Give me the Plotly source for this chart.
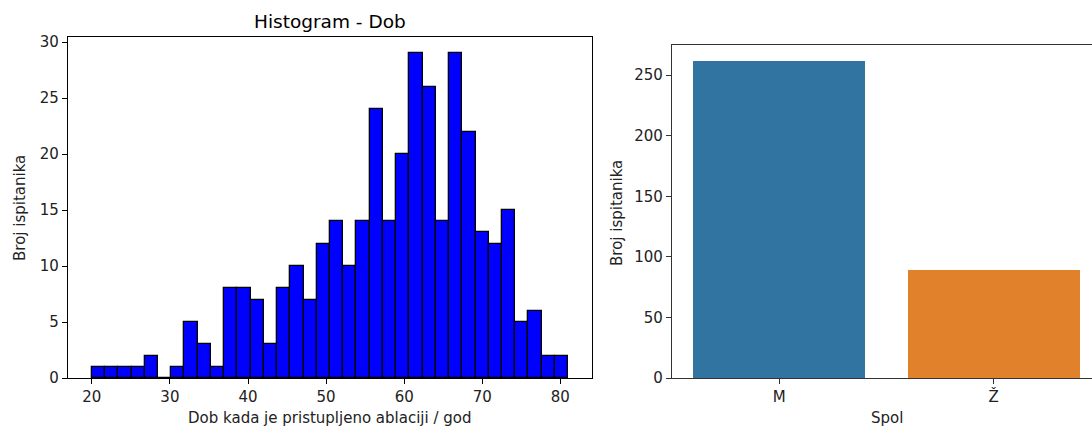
import plotly.graph_objects as go

# ---- data ----
age_bin_start = 20.0
age_bin_end = 81.0
age_counts = [1, 1, 1, 1, 2, 0, 1, 5, 3, 1, 8, 8, 7, 3, 8, 10, 7, 12,
              14, 10, 14, 24, 14, 20, 29, 26, 14, 29, 22, 13, 12, 15, 5, 6, 2, 2]
age_ticks = [20, 30, 40, 50, 60, 70, 80]
age_count_ticks = [0, 5, 10, 15, 20, 25, 30]
sex_categories = ["M", "Ž"]
sex_counts = [262, 89]
sex_count_ticks = [0, 50, 100, 150, 200, 250]
sex_colors = ["#3274a1", "#e1812c"]

n_bins = len(age_counts)
bw = (age_bin_end - age_bin_start) / n_bins
centers = [age_bin_start + bw * (i + 0.5) for i in range(n_bins)]

W, H = 1092, 428
def fx(px):
    return px / W
def fy(py):
    return (H - py) / H

FONT = "DejaVu Sans"
TXT = "#222222"
FS = 15

fig = go.Figure()
fig.add_trace(go.Bar(x=centers, y=age_counts, width=[bw] * n_bins,
                     marker=dict(color="#0000ff", line=dict(color="black", width=1.3)),
                     xaxis="x", yaxis="y", showlegend=False))
fig.add_trace(go.Bar(x=sex_categories, y=sex_counts, width=0.8,
                     marker=dict(color=sex_colors, line=dict(width=0)),
                     xaxis="x2", yaxis="y2", showlegend=False))

def ax(color="black"):
    return dict(showgrid=False, zeroline=False, showline=True, linecolor=color,
                linewidth=1.2, ticks="outside", ticklen=5, tickcolor=color, tickwidth=1.2,
                tickfont=dict(family=FONT, size=FS, color=TXT), automargin=False)

x_lo = age_bin_start - 0.05 * (age_bin_end - age_bin_start)
x_hi = age_bin_end + 0.05 * (age_bin_end - age_bin_start)

fig.update_layout(
    width=W, height=H, margin=dict(l=0, r=0, t=0, b=0),
    plot_bgcolor="white", paper_bgcolor="white", bargap=0,
    xaxis=dict(domain=[fx(68), fx(592)], range=[x_lo, x_hi], anchor="y",
               tickvals=age_ticks, mirror=True, **ax()),
    yaxis=dict(domain=[fy(378), fy(37)], range=[0, max(age_counts) * 1.05], anchor="x",
               tickvals=age_count_ticks, mirror=True, **ax()),
    xaxis2=dict(domain=[fx(672), 1.0], range=[-0.5, 1.458], anchor="y2",
                mirror=True, **ax("#333333")),
    yaxis2=dict(domain=[fy(378), fy(44.7)], range=[0, max(sex_counts) * 1.05], anchor="x2",
                tickvals=sex_count_ticks, mirror=False, **ax("#333333")),
    annotations=[
        dict(text="Histogram - Dob", x=fx(330), y=fy(21), xref="paper", yref="paper",
             showarrow=False, font=dict(family=FONT, size=18.5, color="black"),
             xanchor="center", yanchor="middle"),
        dict(text="Dob kada je pristupljeno ablaciji / god", x=fx(330), y=fy(418),
             xref="paper", yref="paper", showarrow=False,
             font=dict(family=FONT, size=FS, color=TXT), xanchor="center", yanchor="middle"),
        dict(text="Broj ispitanika", x=fx(20), y=fy(208), xref="paper", yref="paper",
             showarrow=False, textangle=-90, font=dict(family=FONT, size=FS, color=TXT),
             xanchor="center", yanchor="middle"),
        dict(text="Spol", x=fx(886.5), y=fy(418), xref="paper", yref="paper",
             showarrow=False, font=dict(family=FONT, size=FS, color=TXT),
             xanchor="center", yanchor="middle"),
        dict(text="Broj ispitanika", x=fx(617), y=fy(213), xref="paper", yref="paper",
             showarrow=False, textangle=-90, font=dict(family=FONT, size=FS, color=TXT),
             xanchor="center", yanchor="middle"),
    ],
)

fig.write_html("out.html", config={"displayModeBar": False},
               post_script="document.body.style.margin='0';document.body.style.overflow='hidden';")
